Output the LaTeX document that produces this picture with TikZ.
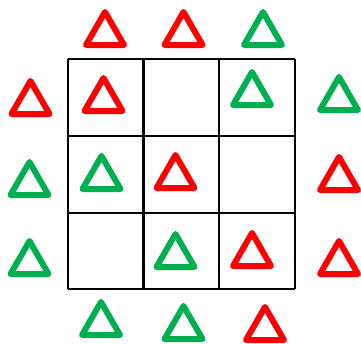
\documentclass[tikz,border=0pt]{standalone}
\definecolor{tred}{HTML}{FF0000}
\definecolor{tgreen}{HTML}{00B050}
\tikzset{
  tri/.style={line width=6pt, line join=round},
  gridline/.style={line width=2.2pt, black},
}
\begin{document}
\begin{tikzpicture}[x=1pt, y=-1pt]
\useasboundingbox (0,0) rectangle (361,343);
% grid
\foreach \x in {68,143.5,219,295} \draw[gridline] (\x,59) -- (\x,289);
\foreach \y in {59,136,212.7,289} \draw[gridline] (68,\y) -- (295,\y);
% triangles: center x / base y / colour
\foreach \cx/\by/\c in {
  105/45/tred, 183.5/45/tred, 263/45/tgreen,
  30.5/114/tred, 29.5/195/tgreen, 29.5/274/tgreen,
  339/110/tgreen, 339/190/tred, 339/274/tred,
  101/335/tgreen, 183.5/339/tgreen, 265/340/tred,
  103.5/111/tred, 252/105/tgreen,
  101.5/189/tgreen, 175.5/188/tred,
  175.5/267/tgreen, 252/266/tred}
  \draw[tri, draw=\c] (\cx-19,\by) -- (\cx,\by-33) -- (\cx+19,\by) -- cycle;
\end{tikzpicture}
\end{document}
